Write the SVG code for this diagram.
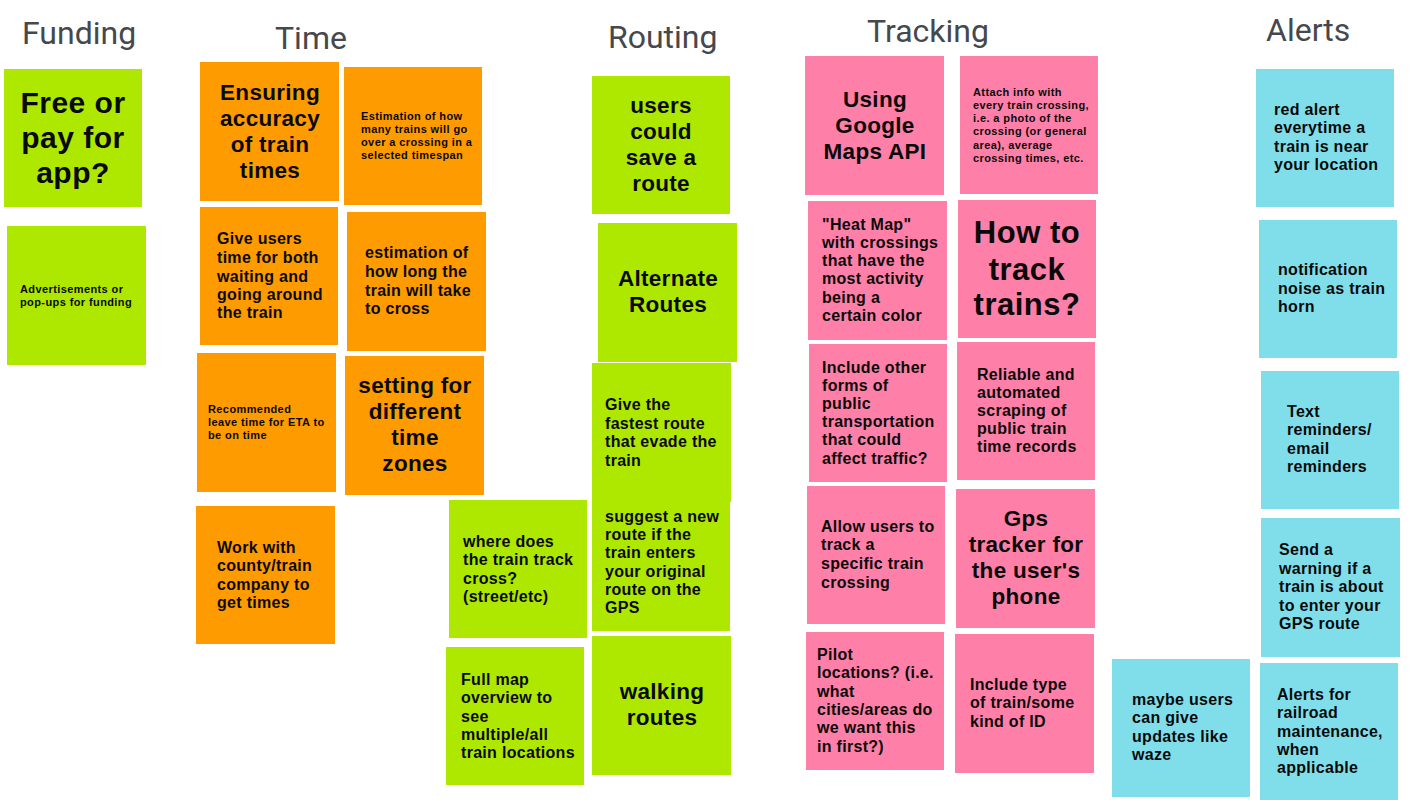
<svg xmlns="http://www.w3.org/2000/svg" width="1422" height="800" viewBox="0 0 1422 800">
<style>
.lime{fill:#aee800}.orange{fill:#fe9b00}.pink{fill:#fe80a8}.cyan{fill:#80deea}
text{font-family:"Liberation Sans",Arial,sans-serif;font-weight:700;fill:#0a0a0a}
.hdr{font-family:Roboto,"Liberation Sans",sans-serif;font-weight:400;font-size:32px;fill:#45484c;letter-spacing:0}
.big{font-size:30px;text-anchor:middle;letter-spacing:0.5px}
.lg{font-size:22.5px;text-anchor:middle;letter-spacing:0.3px}
.md{font-size:16px;letter-spacing:0.3px}
.sm{font-size:11px;letter-spacing:0.4px}
</style>
<rect width="1422" height="800" fill="#ffffff"/>
<g id="headers">
<text class="hdr" x="22" y="44">Funding</text>
<text class="hdr" x="275" y="49">Time</text>
<text class="hdr" x="608" y="48">Routing</text>
<text class="hdr" x="867" y="42">Tracking</text>
<text class="hdr" x="1266" y="41">Alerts</text>
</g>
<g id="F1"><rect class="lime" x="4" y="69" width="138" height="138"/>
<text class="big"><tspan x="73" y="113">Free or</tspan><tspan x="73" y="148">pay for</tspan><tspan x="73" y="183">app?</tspan></text></g>
<g id="F2"><rect class="lime" x="7" y="226" width="139" height="139"/>
<text class="sm"><tspan x="20" y="293">Advertisements or</tspan><tspan x="20" y="306">pop-ups for funding</tspan></text></g>

<g id="T1"><rect class="orange" x="200" y="62" width="139" height="139"/>
<text class="lg"><tspan x="270" y="100">Ensuring</tspan><tspan x="270" y="126">accuracy</tspan><tspan x="270" y="152">of train</tspan><tspan x="270" y="178">times</tspan></text></g>
<g id="T2"><rect class="orange" x="344" y="67" width="138" height="138"/>
<text class="sm"><tspan x="361" y="120">Estimation of how</tspan><tspan x="361" y="133">many trains will go</tspan><tspan x="361" y="146">over a crossing in a</tspan><tspan x="361" y="159">selected timespan</tspan></text></g>
<g id="T3"><rect class="orange" x="200" y="207" width="138" height="138"/>
<text class="md"><tspan x="217" y="244">Give users</tspan><tspan x="217" y="263">time for both</tspan><tspan x="217" y="282">waiting and</tspan><tspan x="217" y="300">going around</tspan><tspan x="217" y="318">the train</tspan></text></g>
<g id="T4"><rect class="orange" x="347" y="212" width="139" height="139"/>
<text class="md"><tspan x="365" y="258">estimation of</tspan><tspan x="365" y="277">how long the</tspan><tspan x="365" y="296">train will take</tspan><tspan x="365" y="314">to cross</tspan></text></g>
<g id="T5"><rect class="orange" x="197" y="353" width="139" height="139"/>
<text class="sm"><tspan x="208" y="413">Recommended</tspan><tspan x="208" y="426">leave time for ETA to</tspan><tspan x="208" y="439">be on time</tspan></text></g>
<g id="T6"><rect class="orange" x="345" y="356" width="139" height="139"/>
<text class="lg"><tspan x="415" y="393">setting for</tspan><tspan x="415" y="419">different</tspan><tspan x="415" y="445">time</tspan><tspan x="415" y="471">zones</tspan></text></g>
<g id="T7"><rect class="orange" x="196" y="506" width="139" height="138"/>
<text class="md"><tspan x="217" y="553">Work with</tspan><tspan x="217" y="571">county/train</tspan><tspan x="217" y="590">company to</tspan><tspan x="217" y="608">get times</tspan></text></g>

<g id="R1"><rect class="lime" x="592" y="76" width="138" height="138"/>
<text class="lg"><tspan x="661" y="113">users</tspan><tspan x="661" y="139">could</tspan><tspan x="661" y="165">save a</tspan><tspan x="661" y="191">route</tspan></text></g>
<g id="R2"><rect class="lime" x="598" y="223" width="139" height="139"/>
<text class="lg"><tspan x="668" y="286">Alternate</tspan><tspan x="668" y="312">Routes</tspan></text></g>
<g id="R4"><rect class="lime" x="592" y="493" width="138" height="138"/>
<text class="md"><tspan x="605" y="522">suggest a new</tspan><tspan x="605" y="540">route if the</tspan><tspan x="605" y="558">train enters</tspan><tspan x="605" y="577">your original</tspan><tspan x="605" y="595">route on the</tspan><tspan x="605" y="613">GPS</tspan></text></g>
<g id="R3"><rect class="lime" x="592" y="363" width="139" height="139"/>
<text class="md"><tspan x="605" y="410">Give the</tspan><tspan x="605" y="429">fastest route</tspan><tspan x="605" y="447">that evade the</tspan><tspan x="605" y="466">train</tspan></text></g>
<g id="R5"><rect class="lime" x="449" y="500" width="138" height="138"/>
<text class="md"><tspan x="463" y="547">where does</tspan><tspan x="463" y="565">the train track</tspan><tspan x="463" y="584">cross?</tspan><tspan x="463" y="602">(street/etc)</tspan></text></g>
<g id="R6"><rect class="lime" x="446" y="647" width="138" height="138"/>
<text class="md"><tspan x="461" y="685">Full map</tspan><tspan x="461" y="703">overview to</tspan><tspan x="461" y="722">see</tspan><tspan x="461" y="740">multiple/all</tspan><tspan x="461" y="758">train locations</tspan></text></g>
<g id="R7"><rect class="lime" x="592" y="636" width="139" height="139"/>
<text class="lg"><tspan x="662" y="699">walking</tspan><tspan x="662" y="725">routes</tspan></text></g>

<g id="K1"><rect class="pink" x="805" y="56" width="139" height="139"/>
<text class="lg"><tspan x="875" y="107">Using</tspan><tspan x="875" y="133">Google</tspan><tspan x="875" y="159">Maps API</tspan></text></g>
<g id="K2"><rect class="pink" x="960" y="56" width="138" height="138"/>
<text class="sm"><tspan x="973" y="96">Attach info with</tspan><tspan x="973" y="109">every train crossing,</tspan><tspan x="973" y="122">i.e. a photo of the</tspan><tspan x="973" y="135">crossing (or general</tspan><tspan x="973" y="149">area), average</tspan><tspan x="973" y="162">crossing times, etc.</tspan></text></g>
<g id="K3"><rect class="pink" x="808" y="201" width="139" height="139"/>
<text class="md"><tspan x="822" y="230">"Heat Map"</tspan><tspan x="822" y="248">with crossings</tspan><tspan x="822" y="266">that have the</tspan><tspan x="822" y="284">most activity</tspan><tspan x="822" y="303">being a</tspan><tspan x="822" y="321">certain color</tspan></text></g>
<g id="K4"><rect class="pink" x="958" y="200" width="138" height="138"/>
<text class="big" style="font-size:31px"><tspan x="1027" y="243">How to</tspan><tspan x="1027" y="280">track</tspan><tspan x="1027" y="315">trains?</tspan></text></g>
<g id="K5"><rect class="pink" x="809" y="344" width="138" height="138"/>
<text class="md"><tspan x="822" y="373">Include other</tspan><tspan x="822" y="391">forms of</tspan><tspan x="822" y="409">public</tspan><tspan x="822" y="427">transportation</tspan><tspan x="822" y="445">that could</tspan><tspan x="822" y="464">affect traffic?</tspan></text></g>
<g id="K6"><rect class="pink" x="957" y="342" width="138" height="138"/>
<text class="md"><tspan x="977" y="380">Reliable and</tspan><tspan x="977" y="398">automated</tspan><tspan x="977" y="416">scraping of</tspan><tspan x="977" y="434">public train</tspan><tspan x="977" y="452">time records</tspan></text></g>
<g id="K7"><rect class="pink" x="807" y="486" width="138" height="138"/>
<text class="md"><tspan x="821" y="532">Allow users to</tspan><tspan x="821" y="550">track a</tspan><tspan x="821" y="569">specific train</tspan><tspan x="821" y="588">crossing</tspan></text></g>
<g id="K8"><rect class="pink" x="956" y="489" width="139" height="139"/>
<text class="lg"><tspan x="1026" y="526">Gps</tspan><tspan x="1026" y="552">tracker for</tspan><tspan x="1026" y="578">the user's</tspan><tspan x="1026" y="604">phone</tspan></text></g>
<g id="K9"><rect class="pink" x="806" y="632" width="138" height="138"/>
<text class="md"><tspan x="817" y="660">Pilot</tspan><tspan x="817" y="678">locations? (i.e.</tspan><tspan x="817" y="697">what</tspan><tspan x="817" y="715">cities/areas do</tspan><tspan x="817" y="733">we want this</tspan><tspan x="817" y="752">in first?)</tspan></text></g>
<g id="K10"><rect class="pink" x="955" y="634" width="139" height="139"/>
<text class="md"><tspan x="970" y="690">Include type</tspan><tspan x="970" y="708">of train/some</tspan><tspan x="970" y="727">kind of ID</tspan></text></g>

<g id="A1"><rect class="cyan" x="1256" y="69" width="138" height="138"/>
<text class="md"><tspan x="1274" y="115">red alert</tspan><tspan x="1274" y="133">everytime a</tspan><tspan x="1274" y="152">train is near</tspan><tspan x="1274" y="170">your location</tspan></text></g>
<g id="A2"><rect class="cyan" x="1259" y="220" width="138" height="138"/>
<text class="md"><tspan x="1278" y="275">notification</tspan><tspan x="1278" y="294">noise as train</tspan><tspan x="1278" y="312">horn</tspan></text></g>
<g id="A3"><rect class="cyan" x="1261" y="371" width="138" height="138"/>
<text class="md"><tspan x="1287" y="417">Text</tspan><tspan x="1287" y="435">reminders/</tspan><tspan x="1287" y="454">email</tspan><tspan x="1287" y="472">reminders</tspan></text></g>
<g id="A4"><rect class="cyan" x="1261" y="518" width="139" height="139"/>
<text class="md"><tspan x="1279" y="555">Send a</tspan><tspan x="1279" y="574">warning if a</tspan><tspan x="1279" y="592">train is about</tspan><tspan x="1279" y="611">to enter your</tspan><tspan x="1279" y="629">GPS route</tspan></text></g>
<g id="A5"><rect class="cyan" x="1112" y="659" width="138" height="138"/>
<text class="md"><tspan x="1132" y="705">maybe users</tspan><tspan x="1132" y="723">can give</tspan><tspan x="1132" y="742">updates like</tspan><tspan x="1132" y="760">waze</tspan></text></g>
<g id="A6"><rect class="cyan" x="1260" y="663" width="138" height="138"/>
<text class="md"><tspan x="1277" y="700">Alerts for</tspan><tspan x="1277" y="718">railroad</tspan><tspan x="1277" y="737">maintenance,</tspan><tspan x="1277" y="755">when</tspan><tspan x="1277" y="773">applicable</tspan></text></g>
<g id="connectors"/>
</svg>
